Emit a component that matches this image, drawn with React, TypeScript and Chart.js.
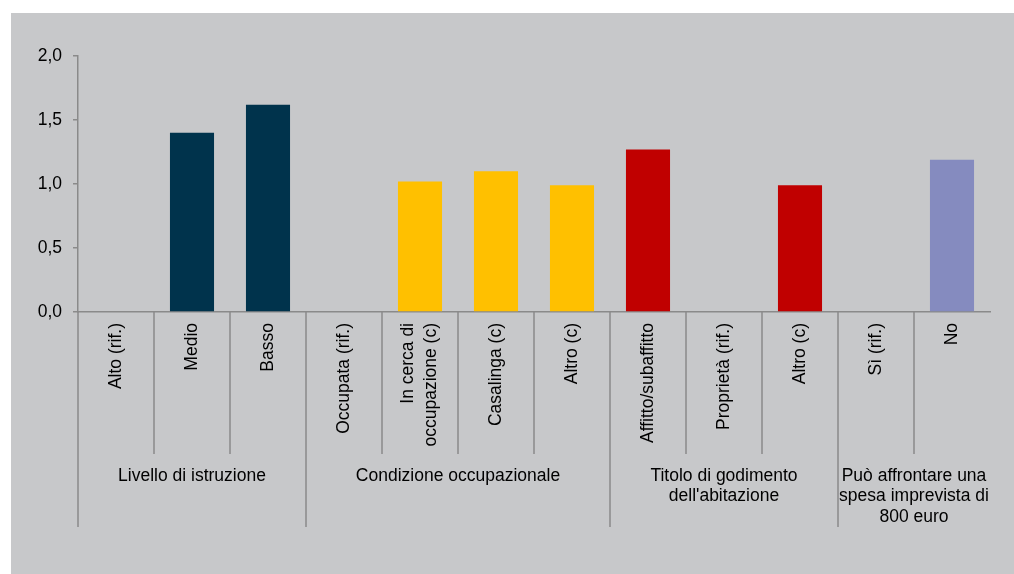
import React, { useEffect, useRef } from 'react';
import { Chart, registerables } from 'chart.js';

Chart.register(...registerables);

const categories: (string | string[])[] = [
  'Alto (rif.)',
  'Medio',
  'Basso',
  'Occupata (rif.)',
  ['In cerca di', 'occupazione (c)'],
  'Casalinga (c)',
  'Altro (c)',
  'Affitto/subaffitto',
  'Proprietà (rif.)',
  'Altro (c)',
  'Sì (rif.)',
  'No',
];

const values: (number | null)[] = [null, 1.4, 1.62, null, 1.02, 1.1, 0.99, 1.27, null, 0.99, null, 1.19];

const groupLabels: string[][] = [
  ['Livello di istruzione'],
  ['Condizione occupazionale'],
  ['Titolo di godimento', "dell'abitazione"],
  ['Può affrontare una', 'spesa imprevista di', '800 euro'],
];
const groupSizes: number[] = [3, 4, 3, 2];
const groupColors: string[] = ['#00334c', '#ffc000', '#c00000', '#858bbf'];

const yTicks: number[] = [0, 0.5, 1, 1.5, 2];

const FONT = '"Liberation Sans", Arial, sans-serif';
const FONT_SIZE = 17.5;
const AXIS_COLOR = '#8a8a8a';
const TEXT_COLOR = '#000000';

export default function App() {
  const canvasRef = useRef<HTMLCanvasElement | null>(null);

  useEffect(() => {
    const canvas = canvasRef.current;
    if (!canvas) return;

    const barColors: string[] = [];
    groupSizes.forEach((n, g) => {
      for (let i = 0; i < n; i++) barColors.push(groupColors[g]);
    });

    const backgroundPlugin = {
      id: 'panelBg',
      beforeDraw(chart: any) {
        const ctx = chart.ctx;
        ctx.save();
        ctx.fillStyle = '#ffffff';
        ctx.fillRect(0, 0, chart.width, chart.height);
        ctx.fillStyle = '#c7c8ca';
        ctx.fillRect(11, 13, chart.width - 11, chart.height - 13);
        ctx.restore();
      },
    };

    const groupPlugin = {
      id: 'groupAxis',
      afterDraw(chart: any) {
        const ctx = chart.ctx;
        const xs = chart.scales.x;
        const area = chart.chartArea;
        const half = (xs.getPixelForValue(1) - xs.getPixelForValue(0)) / 2;
        const top = area.bottom;
        const catBottom = top + 142;
        const grpBottom = top + 215;
        ctx.save();
        ctx.strokeStyle = AXIS_COLOR;
        ctx.lineWidth = 1.5;
        const boundaries = new Set<number>();
        let acc = 0;
        groupSizes.forEach((n) => {
          boundaries.add(acc);
          acc += n;
        });
        for (let i = 0; i < categories.length; i++) {
          const x = Math.round(xs.getPixelForValue(i) - half);
          const bottom = boundaries.has(i) ? grpBottom : catBottom;
          ctx.beginPath();
          ctx.moveTo(x, top);
          ctx.lineTo(x, bottom);
          ctx.stroke();
        }
        ctx.fillStyle = TEXT_COLOR;
        ctx.font = `${FONT_SIZE}px ${FONT}`;

        // category labels, rotated, text end near the axis
        categories.forEach((lab, i) => {
          const lines = Array.isArray(lab) ? lab : [lab];
          const cx = xs.getPixelForValue(i);
          lines.forEach((line, li) => {
            const lx = cx + (li - (lines.length - 1) / 2) * 23;
            ctx.save();
            ctx.translate(lx, top + 11);
            ctx.rotate(-Math.PI / 2);
            ctx.textAlign = 'right';
            ctx.textBaseline = 'middle';
            ctx.fillText(line, 0, 0);
            ctx.restore();
          });
        });

        ctx.textAlign = 'center';
        ctx.textBaseline = 'middle';
        let start = 0;
        groupSizes.forEach((n, g) => {
          const x0 = xs.getPixelForValue(start) - half;
          const x1 = xs.getPixelForValue(start + n - 1) + half;
          const cx = (x0 + x1) / 2;
          groupLabels[g].forEach((line, li) => {
            ctx.fillText(line, cx, top + 164 + li * 20.5);
          });
          start += n;
        });
        ctx.restore();
      },
    };

    const chart = new Chart(canvas, {
      type: 'bar',
      data: {
        labels: categories,
        datasets: [
          {
            data: values,
            backgroundColor: barColors,
            borderWidth: 0,
            categoryPercentage: 1,
            barPercentage: 0.58,
          },
        ],
      },
      options: {
        animation: false,
        responsive: false,
        layout: { padding: { top: 56, right: 24, bottom: 0, left: 0 } },
        plugins: {
          legend: { display: false },
          tooltip: { enabled: false },
        },
        scales: {
          x: {
            type: 'category',
            offset: true,
            grid: { display: false, drawTicks: false },
            border: { display: true, color: AXIS_COLOR, width: 1.5 },
            ticks: { display: false },
            afterFit(scale: any) {
              scale.height = 262;
            },
          },
          y: {
            min: 0,
            max: 2,
            afterBuildTicks(scale: any) {
              scale.ticks = yTicks.map((v) => ({ value: v }));
            },
            grid: {
              drawOnChartArea: false,
              drawTicks: true,
              tickLength: 5,
              color: AXIS_COLOR,
              lineWidth: 1.5,
            },
            border: { display: true, color: AXIS_COLOR, width: 1.5 },
            ticks: {
              padding: 11,
              color: TEXT_COLOR,
              font: { family: FONT, size: FONT_SIZE },
              callback: (v: any) => Number(v).toFixed(1).replace('.', ','),
            },
            afterFit(scale: any) {
              scale.width = 78;
            },
          },
        },
      },
      plugins: [backgroundPlugin, groupPlugin],
    });

    return () => chart.destroy();
  }, []);

  return (
    <div style={{ position: 'absolute', left: 0, top: 0, width: 1014, height: 574 }}>
      <canvas ref={canvasRef} width={1014} height={574} style={{ width: 1014, height: 574, display: 'block' }} />
    </div>
  );
}
